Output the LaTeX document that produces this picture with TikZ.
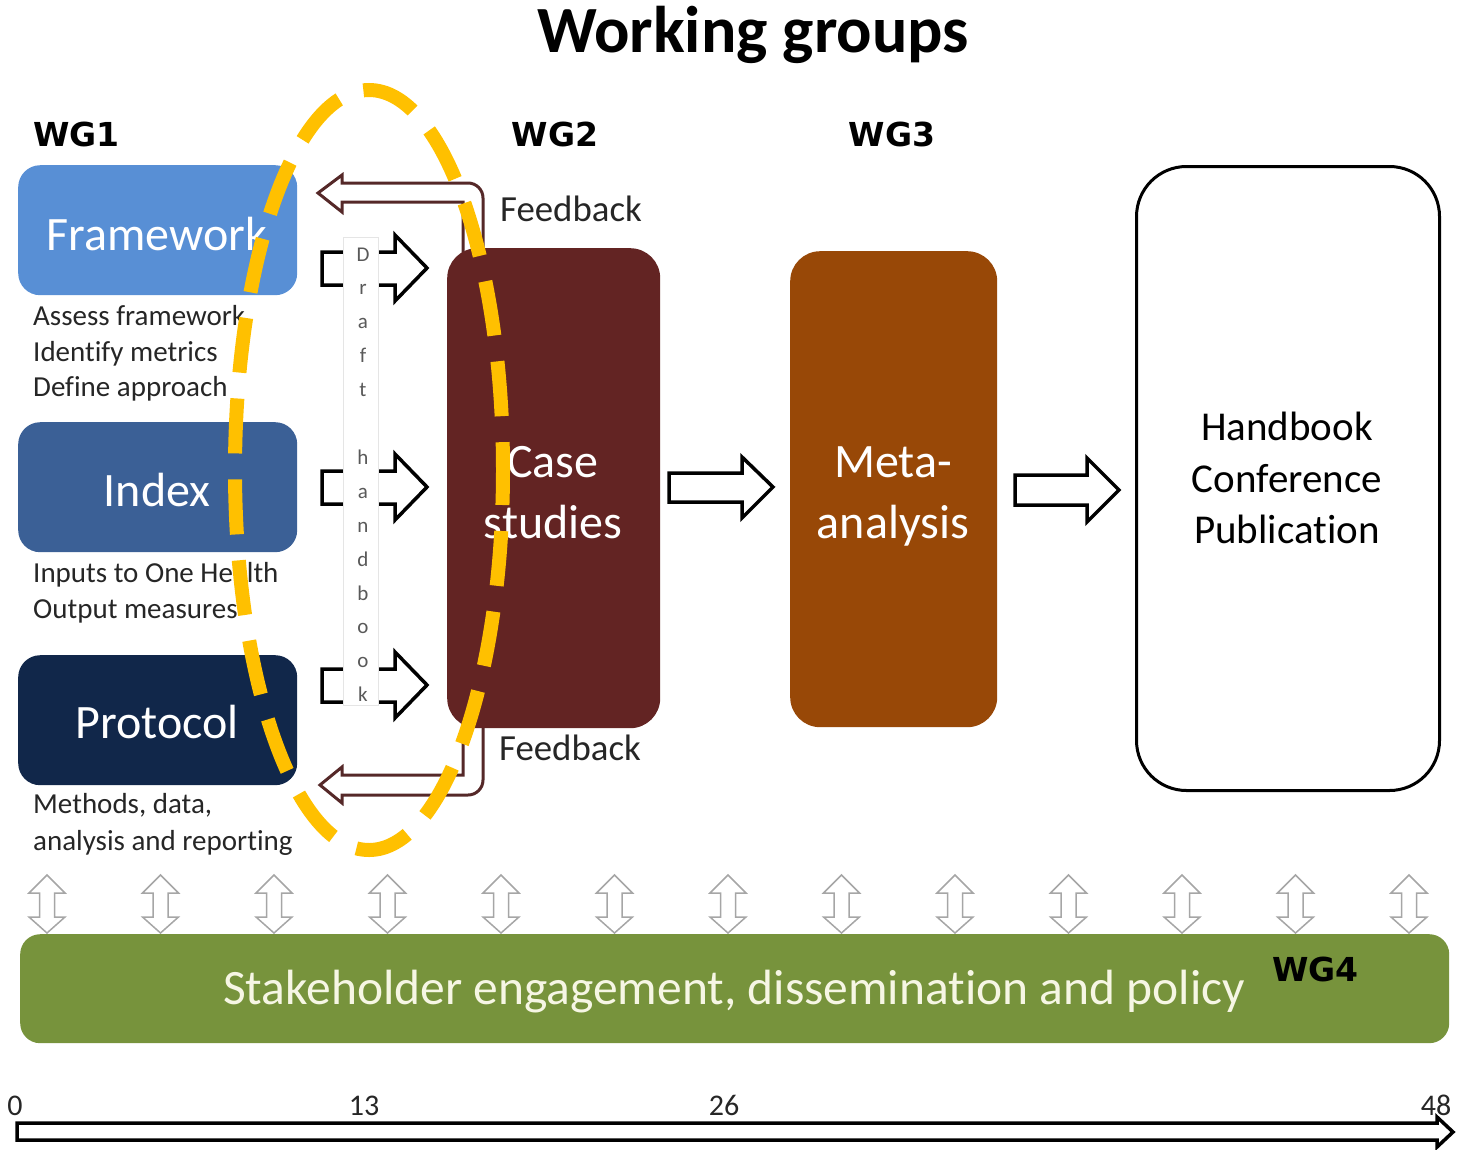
\documentclass[tikz,border=0pt]{standalone}
\usepackage{fontspec}
\setmainfont{Carlito}[Ligatures={NoCommon}]
\newfontfamily\wgfont{DejaVu Sans}
\definecolor{fwcol}{RGB}{88,143,213}
\definecolor{ixcol}{RGB}{59,96,150}
\definecolor{prcol}{RGB}{17,39,74}
\definecolor{cscol}{RGB}{99,36,35}
\definecolor{macol}{RGB}{152,72,7}
\definecolor{grcol}{RGB}{119,147,60}
\definecolor{fbcol}{RGB}{85,40,40}
\definecolor{elcol}{RGB}{255,192,0}
\definecolor{txcol}{RGB}{38,38,38}
\definecolor{bartx}{RGB}{246,246,228}
\begin{document}
\begin{tikzpicture}[x=1pt,y=-1pt,
  every node/.append style={inner sep=0pt},
  box/.style={rounded corners=22pt, inner sep=0pt, anchor=north west},
  bigtxt/.style={text=white, anchor=base, font=\fontsize{48}{58}\selectfont},
  handtxt/.style={text=black, anchor=base, font=\fontsize{41}{50}\selectfont},
  subtxt/.style={anchor=base west, text=txcol, font=\fontsize{29}{34}\selectfont},
  wglab/.style={font=\wgfont\bfseries\fontsize{33}{36}\selectfont, anchor=base},
  fbtxt/.style={anchor=base west, text=txcol, font=\fontsize{36.8}{40}\selectfont},
  numtxt/.style={anchor=base, text=txcol, font=\fontsize{30}{34}\selectfont},
  letter/.style={anchor=base, text=black!65, font=\fontsize{21}{24}\selectfont},
  blk/.style={draw=black, line width=3.5pt, fill=white, line join=miter},
  fbarrow/.style={draw=fbcol, line width=3pt, fill=white, line join=miter},
  dblarrow/.style={draw=black!35, line width=1.5pt, fill=white},
]
\useasboundingbox (0,0) rectangle (1459,1149);

% title and WG labels
\node[anchor=base, font=\bfseries\fontsize{66}{72}\selectfont] (title) at (753,52) {Working groups};
\node[wglab, anchor=base west] (wg1) at (33,146) {WG1};
\node[wglab] (wg2) at (555,146) {WG2};
\node[wglab] (wg3) at (892,146) {WG3};

% WG1 boxes
\node[box, fill=fwcol, minimum width=279pt, minimum height=130pt] (fw) at (18,165) {};
\node[box, fill=ixcol, minimum width=279pt, minimum height=130pt] (ix) at (18,422) {};
\node[box, fill=prcol, minimum width=279pt, minimum height=130pt] (pr) at (18,655) {};
\node[bigtxt] (fwt) at (157,250) {Framework};
\node[bigtxt] (ixt) at (157,506) {Index};
\node[bigtxt] (prt) at (157,738) {Protocol};

\node[subtxt] (s1) at (33,325) {Assess framework};
\node[subtxt] (s2) at (33,361) {Identify metrics};
\node[subtxt] (s3) at (33,396) {Define approach};
\node[subtxt] (s4) at (33,582) {Inputs to One Health};
\node[subtxt] (s5) at (33,618) {Output measures};
\node[subtxt] (s6) at (33,813) {Methods, data,};
\node[subtxt] (s7) at (33,850) {analysis and reporting};

% feedback arrows (behind case studies box)
\draw[fbarrow] (318,193) -- (342,175) -- (342,183) -- (468,183)
   arc[start angle=-90, end angle=0, radius=15] -- (483,262) -- (463,262) -- (463,202)
   -- (342,202) -- (342,212) -- cycle;
\draw[fbarrow] (320,785) -- (342,767) -- (342,775) -- (463,775) -- (463,715) -- (483,715)
   -- (483,780) arc[start angle=0, end angle=90, radius=15] -- (342,795) -- (342,803) -- cycle;
\node[fbtxt] (fb1) at (500,221) {Feedback};
\node[fbtxt] (fb2) at (499,760) {Feedback};

% WG2, WG3 boxes
\node[box, rounded corners=30pt, fill=cscol, minimum width=213pt, minimum height=480pt] (cs) at (447,248) {};
\node[bigtxt] (cs1) at (553,477) {Case};
\node[bigtxt] (cs2) at (553,538) {studies};
\node[box, rounded corners=30pt, fill=macol, minimum width=207pt, minimum height=476pt] (ma) at (790,251) {};
\node[bigtxt] (ma1) at (893,477) {Meta-};
\node[bigtxt] (ma2) at (893,538) {analysis};

% output box
\node[box, rounded corners=50pt, draw=black, line width=3pt, fill=white, minimum width=303pt, minimum height=624pt] (hb) at (1135,165) {};
\node[handtxt] (h1) at (1287,440) {Handbook};
\node[handtxt] (h2) at (1287,492) {Conference};
\node[handtxt] (h3) at (1287,543) {Publication};

% block arrows between boxes
\draw[blk] (669,473) -- (742,473) -- (742,457) -- (773,487) -- (742,518) -- (742,502) -- (669,502) -- cycle;
\draw[blk] (1015,475) -- (1087,475) -- (1087,458) -- (1119,490) -- (1087,522) -- (1087,505) -- (1015,505) -- cycle;

% draft handbook arrows
\foreach \c in {268,487,685}{
  \draw[blk, line width=3.5pt] (322,\c-16) -- (395,\c-16) -- (395,\c-33) -- (427,\c) -- (395,\c+33) -- (395,\c+17) -- (322,\c+17) -- cycle;
}
\node[draw=black!10, line width=0.8pt, fill=white, anchor=north west, minimum width=35pt, minimum height=468pt, inner sep=0pt] (col) at (343,237) {};
\foreach \l [count=\k from 0] in {D,r,a,f,t,{},h,a,n,d,b,o,o,k}{
  \node[letter] (d\k) at (363,{261+33.9*\k}) {\l};
}

% yellow dashed ellipse
\draw[elcol, line width=14pt, dash pattern=on 55pt off 26pt, dash phase=20pt] (369,470) ellipse[x radius=134, y radius=380];

% stakeholder double arrows
\foreach \i in {0,...,12}{
  \pgfmathsetmacro{\xx}{47+113.5*\i}
  \draw[dblarrow] (\xx,875) -- (\xx+18,893) -- (\xx+7.5,893) -- (\xx+7.5,917) -- (\xx+18,917)
     -- (\xx,933) -- (\xx-18,917) -- (\xx-7.5,917) -- (\xx-7.5,893) -- (\xx-18,893) -- cycle;
}

% WG4 bar
\node[box, rounded corners=20pt, fill=grcol, minimum width=1429pt, minimum height=109pt] (bar) at (20,934) {};
\node[anchor=base, text=bartx, font=\fontsize{49.5}{56}\selectfont] (bart) at (734,1004) {Stakeholder engagement, dissemination and policy};
\node[wglab, anchor=base west] (wg4) at (1272,981) {WG4};

% timeline
\draw[blk, line width=3.5pt] (17,1123) -- (1437,1123) -- (1437,1117) -- (1453,1132) -- (1437,1147) -- (1437,1140) -- (17,1140) -- cycle;
\node[numtxt] (t0) at (15,1115) {0};
\node[numtxt] (t13) at (364,1115) {13};
\node[numtxt] (t26) at (724,1115) {26};
\node[numtxt] (t48) at (1436,1115) {48};
\end{tikzpicture}
\end{document}
